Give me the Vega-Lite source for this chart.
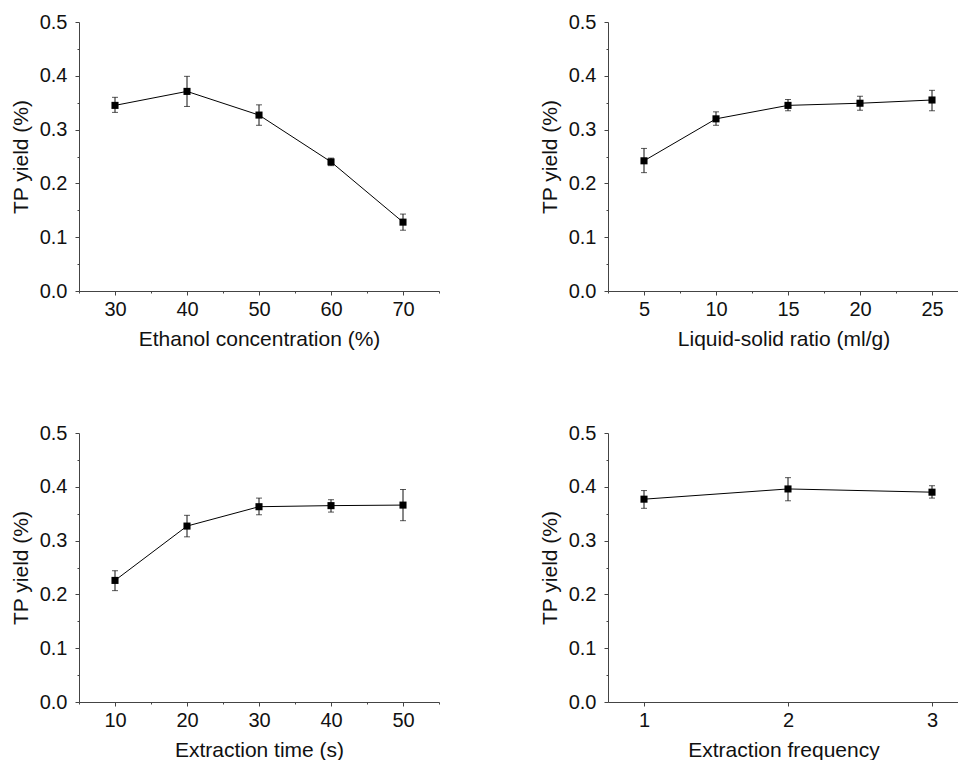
{
  "$schema": "https://vega.github.io/schema/vega-lite/v6.json",
  "padding": {"top": 12, "left": 10, "right": 0, "bottom": 0},
  "background": "white",
  "config": {
    "font": "Liberation Sans",
    "view": {"stroke": null},
    "axis": {
      "grid": false,
      "domainColor": "#444",
      "tickColor": "#444",
      "labelColor": "#111",
      "titleColor": "#111",
      "labelFont": "Liberation Sans",
      "titleFont": "Liberation Sans",
      "labelFontSize": 20,
      "titleFontSize": 21,
      "titleFontWeight": "normal",
      "labelFlush": false,
      "labelOverlap": false
    },
    "axisY": {"titlePadding": 8, "labelPadding": 8},
    "axisX": {"titlePadding": 9, "labelPadding": 4}
  },
  "datasets": {
    "ethanol": [
      {"x": 30, "y": 0.345, "lo": 0.332, "hi": 0.360},
      {"x": 40, "y": 0.371, "lo": 0.343, "hi": 0.399},
      {"x": 50, "y": 0.327, "lo": 0.308, "hi": 0.346},
      {"x": 60, "y": 0.240, "lo": 0.233, "hi": 0.247},
      {"x": 70, "y": 0.128, "lo": 0.113, "hi": 0.143}
    ],
    "ratio": [
      {"x": 5, "y": 0.242, "lo": 0.220, "hi": 0.265},
      {"x": 10, "y": 0.320, "lo": 0.308, "hi": 0.333},
      {"x": 15, "y": 0.345, "lo": 0.335, "hi": 0.356},
      {"x": 20, "y": 0.349, "lo": 0.336, "hi": 0.362},
      {"x": 25, "y": 0.355, "lo": 0.335, "hi": 0.373}
    ],
    "time": [
      {"x": 10, "y": 0.226, "lo": 0.207, "hi": 0.244},
      {"x": 20, "y": 0.327, "lo": 0.307, "hi": 0.347},
      {"x": 30, "y": 0.363, "lo": 0.348, "hi": 0.379},
      {"x": 40, "y": 0.365, "lo": 0.353, "hi": 0.376},
      {"x": 50, "y": 0.366, "lo": 0.337, "hi": 0.395}
    ],
    "freq": [
      {"x": 1, "y": 0.377, "lo": 0.360, "hi": 0.393},
      {"x": 2, "y": 0.396, "lo": 0.374, "hi": 0.417},
      {"x": 3, "y": 0.390, "lo": 0.379, "hi": 0.402}
    ]
  },
  "columns": 2,
  "bounds": "flush",
  "spacing": {"row": 142, "column": 169},
  "concat": [
    {
      "width": 360, "height": 269,
      "data": {"name": "ethanol"},
      "encoding": {
        "x": {"field": "x", "type": "quantitative", "scale": {"domain": [25, 75], "nice": false, "zero": false},
          "axis": {"title": "Ethanol concentration (%)", "values": [25,30,35,40,45,50,55,60,65,70,75], "format": "d",
            "labelExpr": "datum.value % 10 === 0 ? datum.label : ''",
            "tickSize": {"condition": {"test": "datum.value % 10 === 0", "value": 4}, "value": 2}}}
      },
      "layer": [
        {"mark": {"type": "errorbar", "color": "#111", "thickness": 1, "ticks": {"size": 6, "color": "#111"}},
          "encoding": {"y": {"field": "lo", "type": "quantitative", "scale": {"domain": [0, 0.5], "nice": false},
            "axis": {"title": "TP yield (%)", "values": [0,0.05,0.1,0.15,0.2,0.25,0.3,0.35,0.4,0.45,0.5],
              "labelExpr": "abs(datum.value*10 - round(datum.value*10)) < 0.000001 ? format(datum.value, '.1f') : ''",
              "tickSize": {"condition": {"test": "abs(datum.value*10 - round(datum.value*10)) < 0.000001", "value": 4}, "value": 2}}},
            "y2": {"field": "hi"}}},
        {"mark": {"type": "line", "color": "black", "strokeWidth": 1},
          "encoding": {"y": {"field": "y", "type": "quantitative", "scale": {"domain": [0, 0.5], "nice": false},
            "axis": {"title": "TP yield (%)", "values": [0,0.05,0.1,0.15,0.2,0.25,0.3,0.35,0.4,0.45,0.5],
              "labelExpr": "abs(datum.value*10 - round(datum.value*10)) < 0.000001 ? format(datum.value, '.1f') : ''",
              "tickSize": {"condition": {"test": "abs(datum.value*10 - round(datum.value*10)) < 0.000001", "value": 4}, "value": 2}}}}},
        {"mark": {"type": "square", "size": 50, "color": "black", "opacity": 1, "filled": true},
          "encoding": {"y": {"field": "y", "type": "quantitative", "scale": {"domain": [0, 0.5], "nice": false},
            "axis": {"title": "TP yield (%)", "values": [0,0.05,0.1,0.15,0.2,0.25,0.3,0.35,0.4,0.45,0.5],
              "labelExpr": "abs(datum.value*10 - round(datum.value*10)) < 0.000001 ? format(datum.value, '.1f') : ''",
              "tickSize": {"condition": {"test": "abs(datum.value*10 - round(datum.value*10)) < 0.000001", "value": 4}, "value": 2}}}}}
      ]
    },
    {
      "width": 351, "height": 269,
      "data": {"name": "ratio"},
      "encoding": {
        "x": {"field": "x", "type": "quantitative", "scale": {"domain": [2.5, 26.875], "nice": false, "zero": false},
          "axis": {"title": "Liquid-solid ratio (ml/g)", "values": [2.5,5,7.5,10,12.5,15,17.5,20,22.5,25], "format": "d",
            "labelExpr": "datum.value % 5 === 0 ? datum.label : ''",
            "tickSize": {"condition": {"test": "datum.value % 5 === 0", "value": 4}, "value": 2}}}
      },
      "layer": [
        {"mark": {"type": "errorbar", "color": "#111", "thickness": 1, "ticks": {"size": 6, "color": "#111"}},
          "encoding": {"y": {"field": "lo", "type": "quantitative", "scale": {"domain": [0, 0.5], "nice": false},
            "axis": {"title": "TP yield (%)", "values": [0,0.05,0.1,0.15,0.2,0.25,0.3,0.35,0.4,0.45,0.5],
              "labelExpr": "abs(datum.value*10 - round(datum.value*10)) < 0.000001 ? format(datum.value, '.1f') : ''",
              "tickSize": {"condition": {"test": "abs(datum.value*10 - round(datum.value*10)) < 0.000001", "value": 4}, "value": 2}}},
            "y2": {"field": "hi"}}},
        {"mark": {"type": "line", "color": "black", "strokeWidth": 1},
          "encoding": {"y": {"field": "y", "type": "quantitative", "scale": {"domain": [0, 0.5], "nice": false},
            "axis": {"title": "TP yield (%)", "values": [0,0.05,0.1,0.15,0.2,0.25,0.3,0.35,0.4,0.45,0.5],
              "labelExpr": "abs(datum.value*10 - round(datum.value*10)) < 0.000001 ? format(datum.value, '.1f') : ''",
              "tickSize": {"condition": {"test": "abs(datum.value*10 - round(datum.value*10)) < 0.000001", "value": 4}, "value": 2}}}}},
        {"mark": {"type": "square", "size": 50, "color": "black", "opacity": 1, "filled": true},
          "encoding": {"y": {"field": "y", "type": "quantitative", "scale": {"domain": [0, 0.5], "nice": false},
            "axis": {"title": "TP yield (%)", "values": [0,0.05,0.1,0.15,0.2,0.25,0.3,0.35,0.4,0.45,0.5],
              "labelExpr": "abs(datum.value*10 - round(datum.value*10)) < 0.000001 ? format(datum.value, '.1f') : ''",
              "tickSize": {"condition": {"test": "abs(datum.value*10 - round(datum.value*10)) < 0.000001", "value": 4}, "value": 2}}}}}
      ]
    },
    {
      "width": 360, "height": 269,
      "data": {"name": "time"},
      "encoding": {
        "x": {"field": "x", "type": "quantitative", "scale": {"domain": [5, 55], "nice": false, "zero": false},
          "axis": {"title": "Extraction time (s)", "values": [5,10,15,20,25,30,35,40,45,50,55], "format": "d",
            "labelExpr": "datum.value % 10 === 0 ? datum.label : ''",
            "tickSize": {"condition": {"test": "datum.value % 10 === 0", "value": 4}, "value": 2}}}
      },
      "layer": [
        {"mark": {"type": "errorbar", "color": "#111", "thickness": 1, "ticks": {"size": 6, "color": "#111"}},
          "encoding": {"y": {"field": "lo", "type": "quantitative", "scale": {"domain": [0, 0.5], "nice": false},
            "axis": {"title": "TP yield (%)", "values": [0,0.05,0.1,0.15,0.2,0.25,0.3,0.35,0.4,0.45,0.5],
              "labelExpr": "abs(datum.value*10 - round(datum.value*10)) < 0.000001 ? format(datum.value, '.1f') : ''",
              "tickSize": {"condition": {"test": "abs(datum.value*10 - round(datum.value*10)) < 0.000001", "value": 4}, "value": 2}}},
            "y2": {"field": "hi"}}},
        {"mark": {"type": "line", "color": "black", "strokeWidth": 1},
          "encoding": {"y": {"field": "y", "type": "quantitative", "scale": {"domain": [0, 0.5], "nice": false},
            "axis": {"title": "TP yield (%)", "values": [0,0.05,0.1,0.15,0.2,0.25,0.3,0.35,0.4,0.45,0.5],
              "labelExpr": "abs(datum.value*10 - round(datum.value*10)) < 0.000001 ? format(datum.value, '.1f') : ''",
              "tickSize": {"condition": {"test": "abs(datum.value*10 - round(datum.value*10)) < 0.000001", "value": 4}, "value": 2}}}}},
        {"mark": {"type": "square", "size": 50, "color": "black", "opacity": 1, "filled": true},
          "encoding": {"y": {"field": "y", "type": "quantitative", "scale": {"domain": [0, 0.5], "nice": false},
            "axis": {"title": "TP yield (%)", "values": [0,0.05,0.1,0.15,0.2,0.25,0.3,0.35,0.4,0.45,0.5],
              "labelExpr": "abs(datum.value*10 - round(datum.value*10)) < 0.000001 ? format(datum.value, '.1f') : ''",
              "tickSize": {"condition": {"test": "abs(datum.value*10 - round(datum.value*10)) < 0.000001", "value": 4}, "value": 2}}}}}
      ]
    },
    {
      "width": 351, "height": 269,
      "data": {"name": "freq"},
      "encoding": {
        "x": {"field": "x", "type": "quantitative", "scale": {"domain": [0.75, 3.1875], "nice": false, "zero": false},
          "axis": {"title": "Extraction frequency", "values": [1,1.5,2,2.5,3], "format": "d",
            "labelExpr": "datum.value % 1 === 0 ? datum.label : ''",
            "tickSize": {"condition": {"test": "datum.value % 1 === 0", "value": 4}, "value": 2}}}
      },
      "layer": [
        {"mark": {"type": "errorbar", "color": "#111", "thickness": 1, "ticks": {"size": 6, "color": "#111"}},
          "encoding": {"y": {"field": "lo", "type": "quantitative", "scale": {"domain": [0, 0.5], "nice": false},
            "axis": {"title": "TP yield (%)", "values": [0,0.05,0.1,0.15,0.2,0.25,0.3,0.35,0.4,0.45,0.5],
              "labelExpr": "abs(datum.value*10 - round(datum.value*10)) < 0.000001 ? format(datum.value, '.1f') : ''",
              "tickSize": {"condition": {"test": "abs(datum.value*10 - round(datum.value*10)) < 0.000001", "value": 4}, "value": 2}}},
            "y2": {"field": "hi"}}},
        {"mark": {"type": "line", "color": "black", "strokeWidth": 1},
          "encoding": {"y": {"field": "y", "type": "quantitative", "scale": {"domain": [0, 0.5], "nice": false},
            "axis": {"title": "TP yield (%)", "values": [0,0.05,0.1,0.15,0.2,0.25,0.3,0.35,0.4,0.45,0.5],
              "labelExpr": "abs(datum.value*10 - round(datum.value*10)) < 0.000001 ? format(datum.value, '.1f') : ''",
              "tickSize": {"condition": {"test": "abs(datum.value*10 - round(datum.value*10)) < 0.000001", "value": 4}, "value": 2}}}}},
        {"mark": {"type": "square", "size": 50, "color": "black", "opacity": 1, "filled": true},
          "encoding": {"y": {"field": "y", "type": "quantitative", "scale": {"domain": [0, 0.5], "nice": false},
            "axis": {"title": "TP yield (%)", "values": [0,0.05,0.1,0.15,0.2,0.25,0.3,0.35,0.4,0.45,0.5],
              "labelExpr": "abs(datum.value*10 - round(datum.value*10)) < 0.000001 ? format(datum.value, '.1f') : ''",
              "tickSize": {"condition": {"test": "abs(datum.value*10 - round(datum.value*10)) < 0.000001", "value": 4}, "value": 2}}}}}
      ]
    }
  ]
}
